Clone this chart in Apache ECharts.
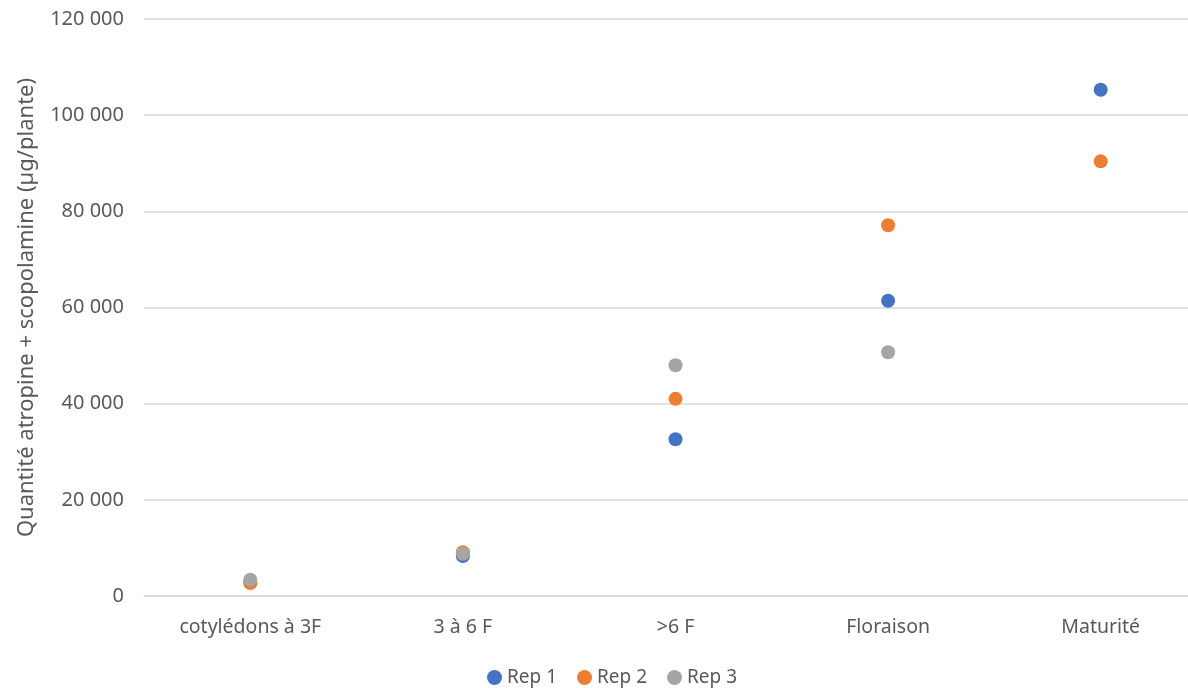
<!DOCTYPE html>
<html>
<head>
<meta charset="utf-8">
<script src="https://cdn.jsdelivr.net/npm/echarts@6/dist/echarts.min.js"></script>
<style>html,body{margin:0;padding:0;background:#fff;overflow:hidden;width:1188px;height:688px;}#c{width:1207px;height:688px;}</style>
</head>
<body>
<div id="c"></div>
<script>
const categories = ['cotylédons à 3F', '3 à 6 F', '>6 F', 'Floraison', 'Maturité'];
const rep1 = [2900, 8300, 32600, 61400, 105300];
const rep2 = [2700, 9100, 41000, 77100, 90400];
const rep3 = [3400, 8800, 48000, 50700, null];
const yTicks = { min: 0, max: 120000, interval: 20000 };
const yTitle = 'Quantité atropine + scopolamine (µg/plante)';

const font = 'Noto Sans';
const txt = '#595959';
const chart = echarts.init(document.getElementById('c'));
function ser(name, data, color) {
  return { name, type: 'scatter', data, symbolSize: 14, itemStyle: { color, opacity: 1 }, z: 3 };
}
chart.setOption({
  animation: false,
  textStyle: { fontFamily: font },
  grid: { left: 144, right: 0, top: 19, bottom: 92, containLabel: false },
  legend: {
    top: 663, left: 482, icon: 'circle', itemWidth: 15, itemHeight: 15, itemGap: 20,
    textStyle: { color: txt, fontSize: 19, fontFamily: font },
    data: ['Rep 1', 'Rep 2', 'Rep 3']
  },
  xAxis: {
    type: 'category', data: categories, boundaryGap: true,
    axisLine: { lineStyle: { color: '#d9d9d9', width: 1.5 } },
    axisTick: { show: false },
    axisLabel: { color: txt, fontSize: 19.5, margin: 21, interval: 0 }
  },
  yAxis: {
    type: 'value', min: yTicks.min, max: yTicks.max, interval: yTicks.interval,
    name: yTitle, nameLocation: 'middle', nameGap: 106,
    nameTextStyle: { color: txt, fontSize: 22 },
    axisLine: { show: false }, axisTick: { show: false },
    axisLabel: { color: txt, fontSize: 20, margin: 20,
      formatter: v => v === 0 ? '0' : String(v).replace(/\B(?=(\d{3})+(?!\d))/g, ' ') },
    splitLine: { lineStyle: { color: '#d9d9d9', width: 1.5 } }
  },
  series: [
    ser('Rep 1', rep1, '#4472c4'),
    ser('Rep 2', rep2, '#ed7d31'),
    ser('Rep 3', rep3, '#a5a5a5')
  ]
});
</script>
</body>
</html>
